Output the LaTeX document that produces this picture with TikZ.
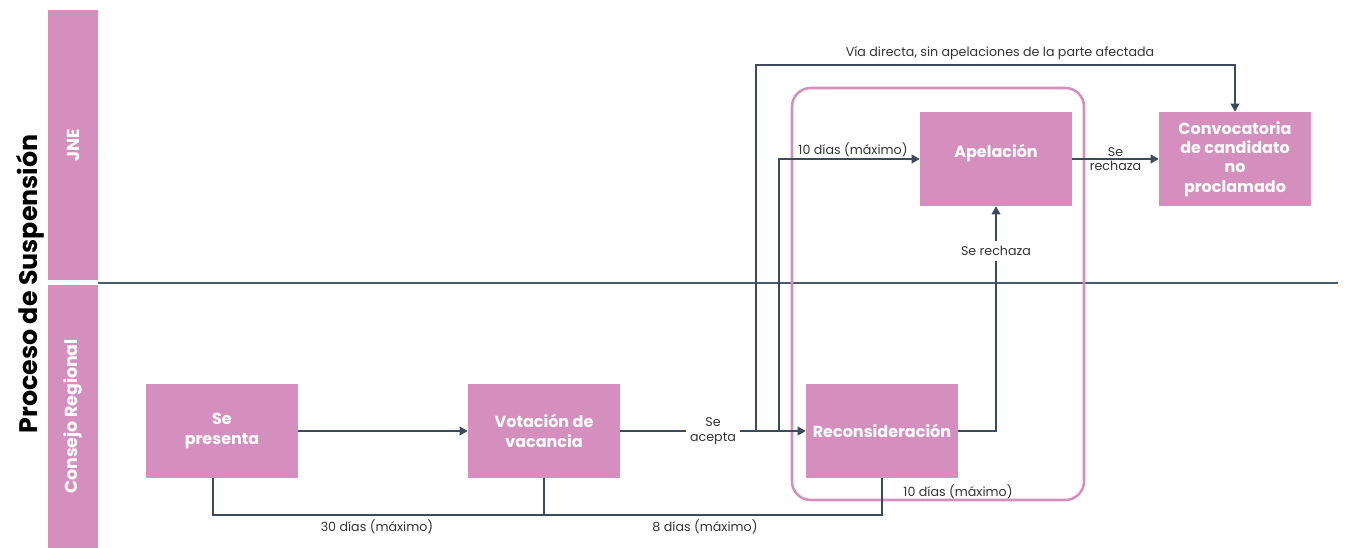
\documentclass[tikz,border=0pt]{standalone}
\usepackage{fontspec}
\setmainfont{Poppins}
\usetikzlibrary{arrows.meta}
\definecolor{pinkbox}{HTML}{D48FBE}
\definecolor{lineclr}{HTML}{3B4A5C}
\definecolor{laneclr}{HTML}{4A5A6E}
\definecolor{txtclr}{HTML}{333333}
\begin{document}
\begin{tikzpicture}[x=0.75pt,y=-0.75pt,
  boxfont/.style={font=\bfseries\fontsize{12}{14.5}\selectfont, text=white, align=center},
  box/.style={fill=pinkbox, minimum width=114pt, minimum height=70.5pt, inner sep=2pt, boxfont},
  lanebar/.style={fill=pinkbox, minimum height=37.5pt, inner sep=0pt, text=white,
    font=\bfseries\fontsize{13}{15}\selectfont, rotate=90},
  conn/.style={draw=lineclr, line width=1.1pt},
  tip/.style={-{Triangle[length=6pt,width=6.5pt]}},
  lbl/.style={font=\fontsize{9.5}{11}\selectfont, text=txtclr, align=center, inner sep=1.5pt}
]
\useasboundingbox (0,0) rectangle (1345,548);

% title
\node[rotate=90, font=\bfseries\fontsize{19}{22}\selectfont, text=black] (title) at (30,284) {Proceso de Suspensión};

% lanes
\node[lanebar, minimum width=202.5pt] (jne) at (73,145) {JNE};
\node[lanebar, minimum width=197.25pt] (cr) at (73,416.5) {Consejo Regional};
\coordinate (la) at (98,283);
\coordinate (lb) at (1338,283);
\draw[draw=laneclr, line width=1pt] (la) -- (lb);

% group container
\node[draw=pinkbox, line width=1.9pt, rounded corners=14pt, minimum width=219pt, minimum height=309pt] (grp) at (938,294) {};

% boxes
\node[box] (sp) at (222,431) {Se\\presenta};
\node[box] (vot) at (544,431) {Votación de\\vacancia};
\node[box] (rec) at (882,431) {Reconsideración};
\node[box, label={[boxfont, yshift=4.5pt]center:Apelación}] (ape) at (996,159) {};
\node[box] (conv) at (1235,159) {Convocatoria\\de candidato\\no\\proclamado};

% connectors
\draw[conn,tip] (sp) -- (vot);
\draw[conn,tip] (vot) -- (rec) node[pos=0.5, lbl, fill=white, inner xsep=3pt] {Se\\acepta};

\coordinate (j1) at (756,431);
\coordinate (j1t) at (756,65);
\draw[conn,tip] (j1) -- (j1t) -| (conv.north);
\node[lbl] (via) at (1000,53) {Vía directa, sin apelaciones de la parte afectada};

\coordinate (j2) at (779,431);
\draw[conn,tip] (j2) |- (ape.west);
\node[lbl] (d10a) at (853,150) {10 días (máximo)};

\draw[conn,tip] (rec.east) -| (ape.south) node[pos=0.9, lbl, fill=white, inner ysep=4pt] {Se rechaza};

\draw[conn,tip] (ape) -- (conv) node[midway, lbl] {Se\\rechaza};

% bottom timeline
\coordinate (b0) at (213,478);
\coordinate (b1) at (213,515);
\coordinate (b2) at (544,515);
\draw[conn] (b0) -- (b1) -| (rec.south);
\draw[conn] (vot.south) -- (b2);
\node[lbl] (d30) at (377,527) {30 días (máximo)};
\node[lbl] (d8) at (705,527) {8 días (máximo)};
\node[lbl] (d10b) at (958,492) {10 días (máximo)};
\end{tikzpicture}
\end{document}
